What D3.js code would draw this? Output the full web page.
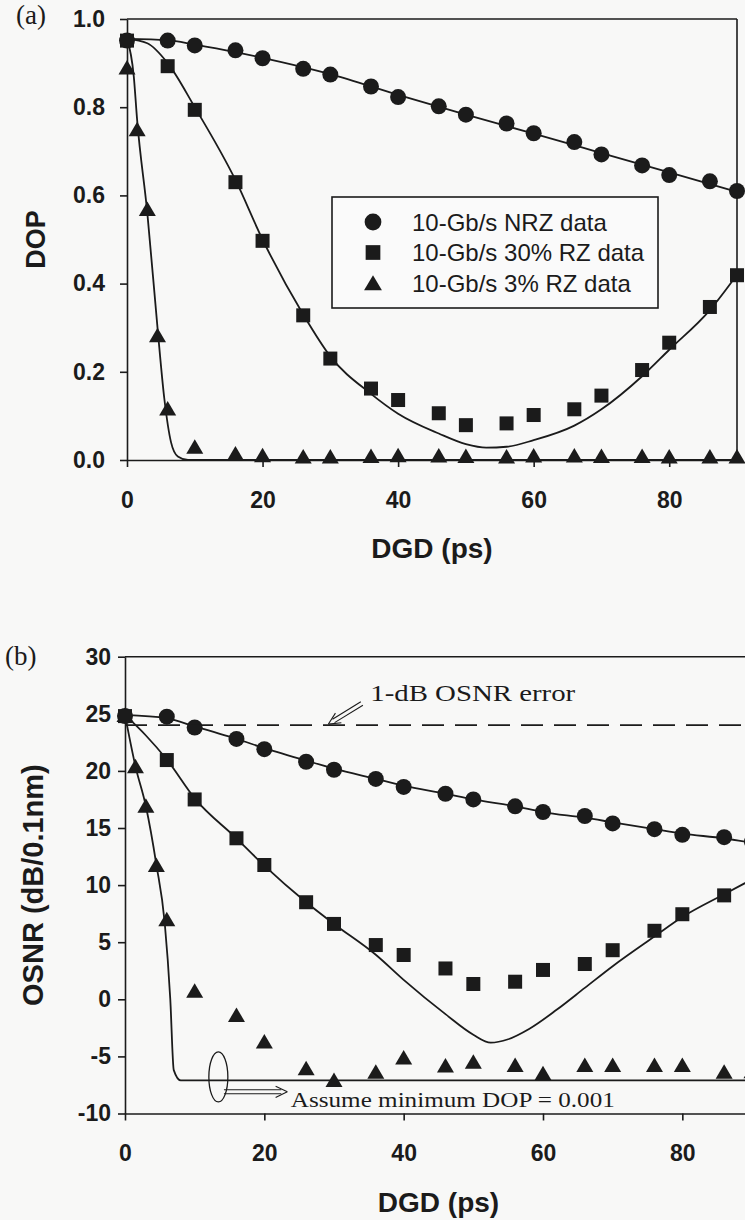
<!DOCTYPE html>
<html>
<head>
<meta charset="utf-8">
<script src="https://cdn.jsdelivr.net/npm/d3@7"></script>
<style>
  body { margin: 0; background: #f8f8f7; }
  svg { display: block; }
</style>
</head>
<body>
<svg id="chart"></svg>
<script>
// DGD values of the measured points (ps)
const dgd = [0, 6, 10, 16, 20, 26, 30, 36, 40, 46, 50, 56, 60, 66, 70, 76, 80, 86, 90];
const dgd3 = [0, 1.5, 3, 4.5, 6, 10, 16, 20, 26, 30, 36, 40, 46, 50, 56, 60, 66, 70, 76, 80, 86, 90];

// (a) DOP
const dopNrz = [0.951, 0.951, 0.94, 0.929, 0.911, 0.887, 0.874, 0.847, 0.823, 0.802, 0.783, 0.763, 0.741, 0.721, 0.693, 0.668, 0.646, 0.632, 0.61];
const dopRz30 = [0.951, 0.893, 0.794, 0.63, 0.497, 0.328, 0.23, 0.162, 0.136, 0.106, 0.079, 0.083, 0.102, 0.115, 0.146, 0.204, 0.266, 0.347, 0.419];
const dopRz3 = [0.89, 0.75, 0.569, 0.283, 0.117, 0.03, 0.015, 0.011, 0.008, 0.008, 0.009, 0.011, 0.01, 0.009, 0.008, 0.01, 0.01, 0.009, 0.009, 0.008, 0.008, 0.008];

// (a) theory curves [DGD, DOP]
const fitDopNrz = [[0, 0.955], [6, 0.952], [10, 0.942], [16, 0.925], [20, 0.912], [30, 0.875], [40, 0.828], [50, 0.783], [60, 0.74], [70, 0.696], [80, 0.652], [90, 0.608]];
const fitDopRz30 = [[0, 0.955], [3, 0.945], [6, 0.9], [10, 0.8], [16, 0.635], [20, 0.5], [26, 0.33], [30, 0.235], [36, 0.15], [40, 0.105], [46, 0.06], [50, 0.036], [53, 0.028], [56, 0.03], [60, 0.045], [66, 0.078], [70, 0.115], [76, 0.19], [80, 0.25], [86, 0.34], [90, 0.42]];
const fitDopRz3 = [[0, 0.955], [1, 0.87], [1.5, 0.77], [3, 0.56], [4.5, 0.3], [5.5, 0.14], [6.5, 0.04], [7.5, 0.008], [9, 0], [90, 0]];

// (b) OSNR (dB/0.1nm)
const osnrNrz = [24.8, 24.75, 23.8, 22.8, 21.9, 20.8, 20.1, 19.3, 18.6, 18.0, 17.5, 16.9, 16.4, 16.05, 15.4, 14.9, 14.4, 14.2, 13.8];
const osnrRz30 = [24.8, 20.95, 17.5, 14.1, 11.76, 8.5, 6.6, 4.75, 3.88, 2.7, 1.34, 1.54, 2.57, 3.09, 4.3, 6.0, 7.45, 9.1, 10.8];
const osnrRz3 = [24.9, 20.4, 16.95, 11.76, 7.0, 0.75, -1.37, -3.7, -6.04, -7.07, -6.34, -5.1, -5.8, -5.46, -5.75, -6.48, -5.75, -5.75, -5.75, -5.75, -6.34, -6.3];

// (b) theory curves
const fitOsnrNrz = [[0, 24.9], [6, 24.6], [10, 23.9], [16, 22.8], [20, 22.0], [26, 20.9], [30, 20.2], [36, 19.3], [40, 18.7], [46, 18.0], [50, 17.5], [56, 16.9], [60, 16.4], [66, 15.9], [70, 15.5], [76, 14.9], [80, 14.5], [86, 14.1], [90, 13.7]];
const fitOsnrRz30 = [[0, 24.9], [3, 23.1], [6, 21.0], [10, 17.6], [16, 14.1], [20, 11.7], [26, 8.5], [30, 6.6], [36, 3.9], [40, 1.7], [46, -1.3], [50, -3.1], [52.5, -3.8], [55, -3.5], [58, -2.6], [62, -0.9], [66, 1.0], [70, 2.9], [76, 5.5], [80, 7.2], [86, 9.2], [90, 10.5]];
const fitOsnrRz3 = [[0, 24.9], [1.5, 20.4], [3, 16.9], [4.5, 11.8], [5.7, 6.7], [6.5, 0], [7, -6.2], [8, -7.1], [90, -7.1]];

const errLevel = 24; // 1-dB OSNR error
const legendLabels = ["10-Gb/s NRZ data", "10-Gb/s 30% RZ data", "10-Gb/s 3% RZ data"];
const xTicks = [0, 20, 40, 60, 80];
const dopTicks = [0, 0.2, 0.4, 0.6, 0.8, 1.0];
const osnrTicks = [-10, -5, 0, 5, 10, 15, 20, 25, 30];

const SANS = "'Liberation Sans', Arial, sans-serif";
const SERIF = "'Liberation Serif', 'Times New Roman', serif";
const INK = "#1b1b1b";

const svg = d3.select("#chart").attr("width", 745).attr("height", 1220);

// marker shapes
function marker(g, type, x, y, s) {
  s = s || 1;
  if (type === "circle") {
    g.append("circle").attr("cx", x).attr("cy", y).attr("r", 8 * s).attr("fill", INK);
  } else if (type === "square") {
    g.append("rect").attr("x", x - 7 * s).attr("y", y - 7 * s)
      .attr("width", 14 * s).attr("height", 14 * s).attr("fill", INK);
  } else {
    g.append("path")
      .attr("d", `M${x},${y - 7.5 * s}L${x + 8.5 * s},${y + 7 * s}L${x - 8.5 * s},${y + 7 * s}Z`)
      .attr("fill", INK);
  }
}

function drawPanel(p) {
  const g = svg.append("g");

  // axes
  const xAxis = g.append("g")
    .attr("transform", `translate(0,${p.y.range()[0]})`)
    .call(d3.axisBottom(p.x).tickValues(xTicks).tickSize(7).tickSizeOuter(0).tickPadding(p.xPad).tickFormat(d3.format("d")));
  const yAxis = g.append("g")
    .attr("transform", `translate(${p.x.range()[0]},0)`)
    .call(d3.axisLeft(p.y).tickValues(p.yTicks).tickSize(7).tickSizeOuter(0).tickPadding(p.yPad).tickFormat(p.fmt));
  [xAxis, yAxis].forEach(a => {
    a.attr("font-family", SANS).attr("font-size", 23).attr("font-weight", "bold").attr("color", INK);
    a.selectAll("path, line").attr("stroke-width", 1.6);
  });

  // top and right frame
  g.append("line")
    .attr("x1", p.x.range()[0]).attr("x2", p.x.range()[1])
    .attr("y1", p.y.range()[1]).attr("y2", p.y.range()[1])
    .attr("stroke", INK).attr("stroke-width", 1.6);
  g.append("line")
    .attr("x1", p.x.range()[1]).attr("x2", p.x.range()[1])
    .attr("y1", p.y.range()[0]).attr("y2", p.y.range()[1])
    .attr("stroke", INK).attr("stroke-width", 1.6);

  // theory curves
  const line = d3.line()
    .x(d => p.x(d[0]))
    .y(d => p.y(d[1]))
    .curve(d3.curveMonotoneX);
  p.fits.forEach(f => {
    g.append("path").datum(f).attr("d", line)
      .attr("fill", "none").attr("stroke", INK).attr("stroke-width", 1.8);
  });

  // measured points
  const pts = g.append("g");
  p.series.forEach(s => {
    s.xs.forEach((xv, i) => marker(pts, s.type, p.x(xv), p.y(s.ys[i])));
  });

  // titles
  g.append("text")
    .attr("x", (p.x(0) + p.x(90)) / 2).attr("y", p.xTitleY)
    .attr("text-anchor", "middle").attr("dominant-baseline", "central")
    .attr("font-family", SANS).attr("font-size", 28).attr("font-weight", "bold").attr("fill", INK)
    .text("DGD (ps)");
  g.append("text")
    .attr("transform", `translate(${p.yTitleX},${(p.y.range()[0] + p.y.range()[1]) / 2}) rotate(-90)`)
    .attr("text-anchor", "middle").attr("dominant-baseline", "central")
    .attr("font-family", SANS).attr("font-size", p.yTitleSize).attr("font-weight", "bold").attr("fill", INK)
    .text(p.yTitle);
  g.append("text")
    .attr("x", p.tagX).attr("y", p.tagY)
    .attr("font-family", SERIF).attr("font-size", 27).attr("fill", INK)
    .text(p.tag);
  return g;
}

// ---------- panel (a)
const xA = d3.scaleLinear().domain([0, 90]).range([127, 737]);
const yA = d3.scaleLinear().domain([0, 1]).range([460, 19]);

const gA = drawPanel({
  x: xA, y: yA, yTicks: dopTicks, fmt: d3.format(".1f"),
  xPad: 25, yPad: 15, xTitleY: 548, yTitleX: 36, yTitle: "DOP", yTitleSize: 27,
  tag: "(a)", tagX: 16, tagY: 24,
  fits: [fitDopNrz, fitDopRz30, fitDopRz3],
  series: [
    { type: "triangle", xs: dgd3, ys: dopRz3 },
    { type: "square", xs: dgd, ys: dopRz30 },
    { type: "circle", xs: dgd, ys: dopNrz }
  ]
});

// legend
const leg = gA.append("g");
leg.append("rect").attr("x", 332).attr("y", 197).attr("width", 326).attr("height", 111)
  .attr("fill", "#fafafa").attr("stroke", INK).attr("stroke-width", 1.6);
["circle", "square", "triangle"].forEach((t, i) => {
  const cy = 222 + i * 30.5;
  marker(leg, t, 373, cy, 1.05);
  leg.append("text").attr("x", 412).attr("y", cy).attr("dominant-baseline", "central")
    .attr("font-family", SANS).attr("font-size", 24).attr("fill", INK)
    .text(legendLabels[i]);
});

// ---------- panel (b)
const xB = d3.scaleLinear().domain([0, 90]).range([125, 752]);
const yB = d3.scaleLinear().domain([-10, 30]).range([1113.5, 656.7]);

const gB = drawPanel({
  x: xB, y: yB, yTicks: osnrTicks, fmt: d => String(d),
  xPad: 24, yPad: 7, xTitleY: 1202, yTitleX: 33, yTitle: "OSNR (dB/0.1nm)", yTitleSize: 29,
  tag: "(b)", tagX: 5, tagY: 665,
  fits: [fitOsnrNrz, fitOsnrRz30, fitOsnrRz3],
  series: [
    { type: "triangle", xs: dgd3, ys: osnrRz3 },
    { type: "square", xs: dgd, ys: osnrRz30 },
    { type: "circle", xs: dgd, ys: osnrNrz }
  ]
});

// 1-dB OSNR error line
gB.append("line")
  .attr("x1", xB(0)).attr("x2", xB(90))
  .attr("y1", yB(errLevel)).attr("y2", yB(errLevel))
  .attr("stroke", INK).attr("stroke-width", 1.8).attr("stroke-dasharray", "22,11");

// double-shaft arrow helper
function arrow(g, x1, y1, x2, y2) {
  const ang = Math.atan2(y2 - y1, x2 - x1);
  const nx = -Math.sin(ang) * 2, ny = Math.cos(ang) * 2;
  const back = 6;
  const bx = x2 - Math.cos(ang) * back, by = y2 - Math.sin(ang) * back;
  [-1, 1].forEach(k => {
    g.append("line").attr("x1", x1 + k * nx).attr("y1", y1 + k * ny)
      .attr("x2", bx + k * nx).attr("y2", by + k * ny)
      .attr("stroke", INK).attr("stroke-width", 1.1);
  });
  const h = 13, spread = 0.45;
  [-spread, spread].forEach(a => {
    g.append("line").attr("x1", x2).attr("y1", y2)
      .attr("x2", x2 - Math.cos(ang + a) * h).attr("y2", y2 - Math.sin(ang + a) * h)
      .attr("stroke", INK).attr("stroke-width", 1.1);
  });
}

arrow(gB, xB(34), yB(25.9), xB(29.2), yB(errLevel + 0.1));
gB.append("text")
  .attr("x", xB(35.2)).attr("y", yB(26.15))
  .attr("font-family", SERIF).attr("font-size", 23).attr("fill", INK)
  .attr("textLength", 205).attr("lengthAdjust", "spacingAndGlyphs")
  .text("1-dB OSNR error");

// ellipse marking the DOP floor
gB.append("ellipse")
  .attr("cx", xB(13.4)).attr("cy", yB(-6.8))
  .attr("rx", 9.5).attr("ry", 25)
  .attr("fill", "none").attr("stroke", INK).attr("stroke-width", 1.3);
arrow(gB, xB(14.2), yB(-8.1), xB(23.3), yB(-8.1));
gB.append("text")
  .attr("x", xB(23.8)).attr("y", yB(-9.4))
  .attr("font-family", SERIF).attr("font-size", 22).attr("fill", INK)
  .attr("textLength", 324).attr("lengthAdjust", "spacingAndGlyphs")
  .text("Assume minimum DOP = 0.001");
</script>
</body>
</html>
